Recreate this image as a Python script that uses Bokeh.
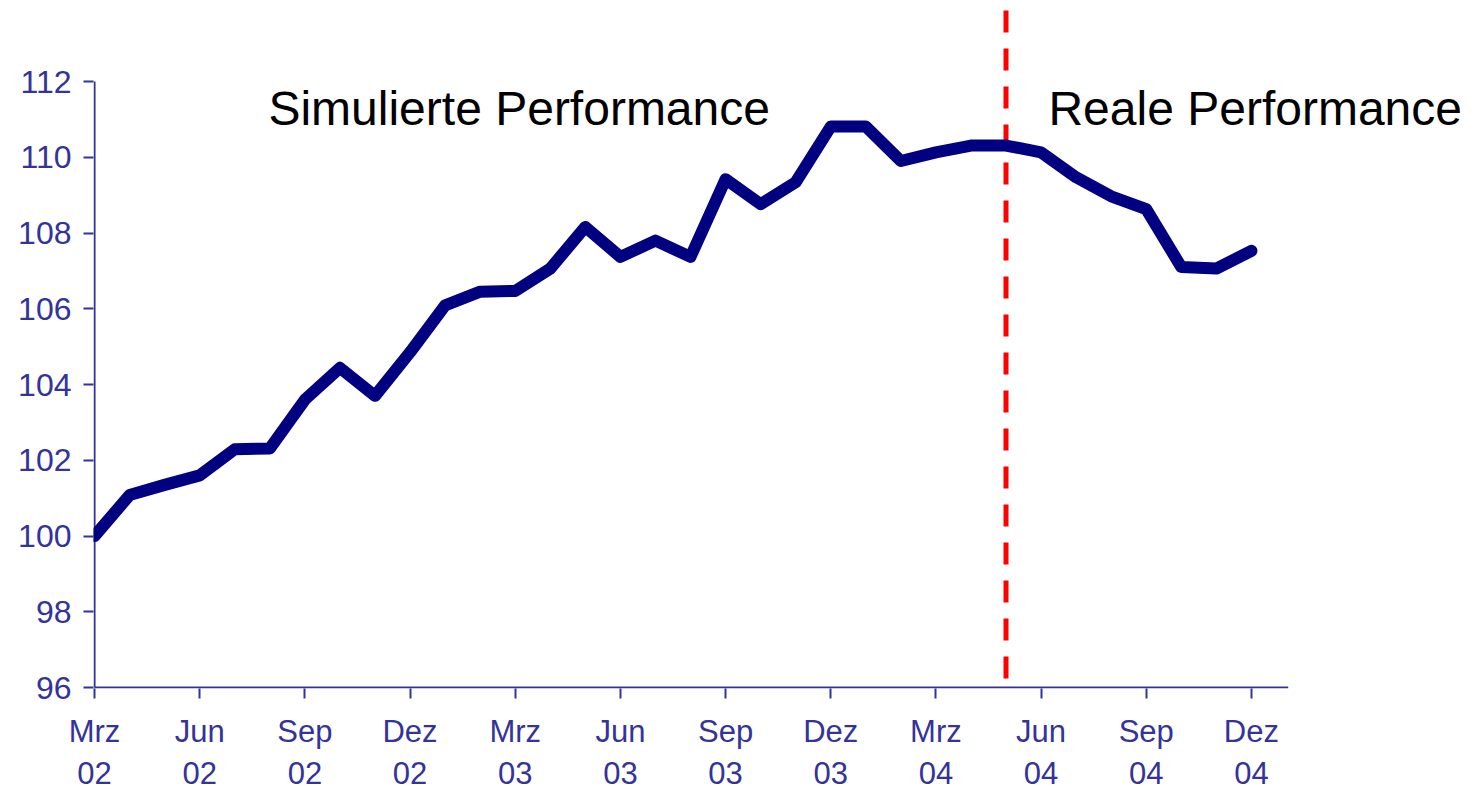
from bokeh.plotting import figure
from bokeh.models import FixedTicker, ColumnDataSource
from bokeh.core.properties import value
from bokeh.embed import file_html
from bokeh.resources import INLINE

months = ["Mrz 02", "Apr 02", "Mai 02", "Jun 02", "Jul 02", "Aug 02", "Sep 02", "Okt 02", "Nov 02", "Dez 02",
          "Jan 03", "Feb 03", "Mrz 03", "Apr 03", "Mai 03", "Jun 03", "Jul 03", "Aug 03", "Sep 03", "Okt 03",
          "Nov 03", "Dez 03", "Jan 04", "Feb 04", "Mrz 04", "Apr 04", "Mai 04", "Jun 04", "Jul 04", "Aug 04",
          "Sep 04", "Okt 04", "Nov 04", "Dez 04"]
performance = [100.0, 101.08, 101.35, 101.6, 102.29, 102.31, 103.6, 104.44, 103.7, 104.85,
               106.09, 106.45, 106.47, 107.06, 108.16, 107.37, 107.80, 107.37, 109.42, 108.76,
               109.34, 110.81, 110.81, 109.90, 110.13, 110.31, 110.31, 110.13, 109.47, 108.97,
               108.63, 107.1, 107.06, 107.53]
tick_months = ["Mrz 02", "Jun 02", "Sep 02", "Dez 02", "Mrz 03", "Jun 03", "Sep 03", "Dez 03",
               "Mrz 04", "Jun 04", "Sep 04", "Dez 04"]
y_ticks = [96, 98, 100, 102, 104, 106, 108, 110, 112]
split_month = "Mai 04"
label_sim = "Simulierte Performance"
label_real = "Reale Performance"

x_idx = list(range(len(months)))
tick_pos = [months.index(m) for m in tick_months]
tick_labels = {months.index(m): m.replace(" ", "\n") for m in tick_months}

AX = "#333399"
FONT = "Liberation Sans"

p = figure(frame_width=1370, frame_height=688, output_backend="svg", toolbar_location=None,
           x_range=(-0.03, 39.05), y_range=(95.9736, 114.139),
           min_border_left=93, min_border_right=0, min_border_top=0, min_border_bottom=0)
p.outline_line_color = None
p.background_fill_color = "white"
p.border_fill_color = "white"
p.xgrid.visible = False
p.ygrid.visible = False

for ax in (p.xaxis[0], p.yaxis[0]):
    ax.axis_line_color = None
    ax.major_tick_line_color = AX
    ax.major_tick_line_width = 2
    ax.major_tick_out = 10
    ax.major_tick_in = 0
    ax.minor_tick_line_color = None
    ax.major_label_text_color = AX
    ax.major_label_text_font = FONT
    ax.major_label_text_font_size = "32px"

p.yaxis[0].ticker = FixedTicker(ticks=y_ticks)
p.yaxis[0].major_label_standoff = 12
p.xaxis[0].ticker = FixedTicker(ticks=tick_pos)
p.xaxis[0].major_label_overrides = tick_labels
p.xaxis[0].major_label_standoff = 15
p.xaxis[0].major_label_text_font_size = "31px"
p.xaxis[0].major_label_text_line_height = 1.22

# axis lines (limited to data extent like the original)
p.segment(x0=[0, 0], y0=[y_ticks[0], y_ticks[0]], x1=[0, len(months) + 0.05], y1=[y_ticks[-1], y_ticks[0]],
          line_color=AX, line_width=2)

# split marker
sx = months.index(split_month)
p.segment(x0=[sx], y0=[113.875], x1=[sx], y1=[96.21], line_color="#FF0000", line_width=5,
          line_dash="22 16")

src = ColumnDataSource(dict(x=x_idx, y=performance))
p.line("x", "y", source=src, line_color="#000080", line_width=12, line_join="round", line_cap="round")

p.text(x=[4.96, 27.21], y=[111.287, 111.287], text=[label_sim, label_real],
       text_font=value(FONT), text_font_size="48px", text_color="black",
       text_baseline="alphabetic", text_align="left")

open("out.html", "w").write(file_html(p, INLINE))
